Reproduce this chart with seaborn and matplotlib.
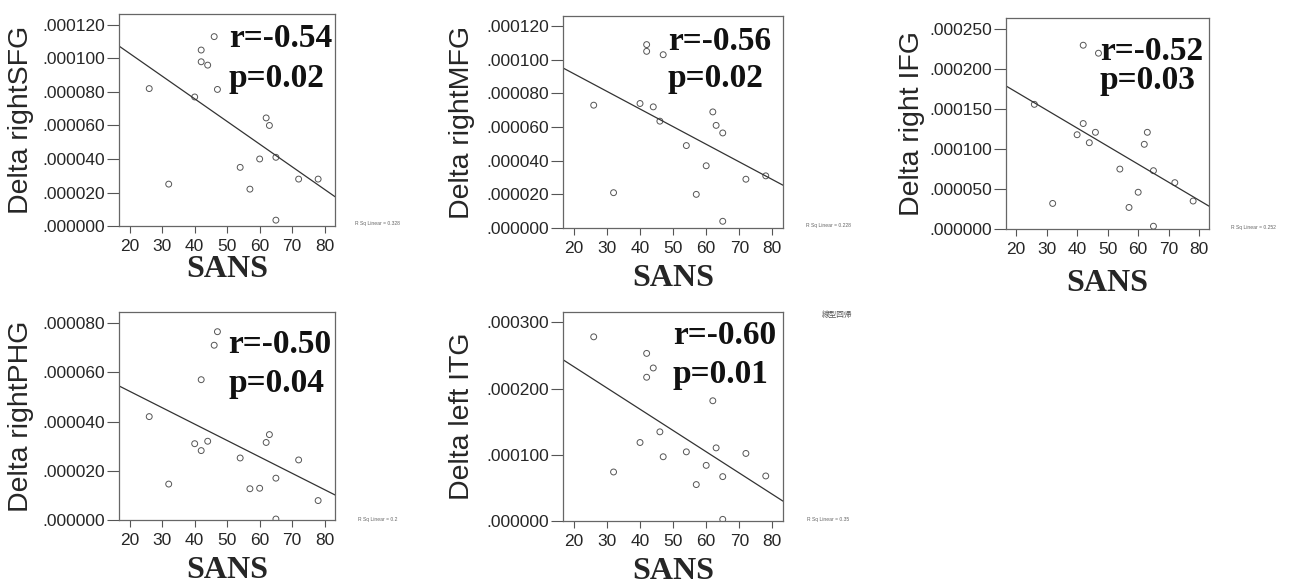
"""Cinco diagramas de dispersión SANS vs. delta de región, con recta de regresión."""

import matplotlib
matplotlib.use("Agg")
import matplotlib.pyplot as plt
import pandas as pd
import seaborn as sns
from matplotlib.ticker import FuncFormatter, MultipleLocator

# Puntuación SANS (igual en todos los paneles).
SANS = [26, 32, 40, 42, 42, 44, 46, 47, 54, 57, 60, 62, 63, 65, 65, 72, 78]

# Deltas por región (en unidades de 1e-6).
SFG = [82, 25, 77, 98, 105, 96, 113, 81.5, 35, 22, 40, 64.5, 60, 41, 3.5, 28, 28]
MFG = [73, 21, 74, 105, 109, 72, 63.5, 103, 49, 20, 37, 69, 61, 56.5, 4, 29, 31]
IFG = [156, 32, 118, 132, 230, 108, 121, 220, 75, 27, 46, 106, 121, 73, 3.5, 58, 35]
PHG = [42, 14.6, 31, 28.2, 57, 32, 71, 76.5, 25.2, 12.7, 12.9, 31.5, 34.7, 17, 0.4, 24.4, 7.9]
ITG = [278, 74, 118.5, 217, 253, 231, 134.6, 97, 104.4, 55, 84, 181.5, 110.4, 67, 2.5, 102, 68]

LABELS = ["Delta rightSFG", "Delta rightMFG", "Delta right IFG",
          "Delta rightPHG", "Delta left ITG"]
R_TXT = ["r=-0.54", "r=-0.56", "r=-0.52", "r=-0.50", "r=-0.60"]
P_TXT = ["p=0.02", "p=0.02", "p=0.03", "p=0.04", "p=0.01"]
RSQ_TXT = ["R Sq Linear = 0.328", "R Sq Linear = 0.228", "R Sq Linear = 0.252",
           "R Sq Linear = 0.2", "R Sq Linear = 0.35"]
YMAX = [126.5, 126, 264, 84.5, 315.5]
YSTEP = [20, 20, 50, 20, 100]

# Maquetación (fracciones de figura / ejes).
BOXES = [(0.0919, 0.6143, 0.1668, 0.3618), (0.4347, 0.6109, 0.1699, 0.3618),
         (0.7768, 0.6092, 0.1568, 0.3600), (0.0919, 0.1126, 0.1668, 0.3550),
         (0.4347, 0.1109, 0.1699, 0.3567)]
TXT_POS = [(0.509, 0.844, 0.656), (0.477, 0.840, 0.665), (0.463, 0.800, 0.664),
           (0.505, 0.803, 0.615), (0.500, 0.847, 0.660)]
YLAB_X = [-0.394, -0.40, -0.40, -0.394, -0.40]
XLAB_Y = [-0.137, -0.17, -0.19, -0.172, -0.172]
RSQ_POS = [(355, 223), (806, 225), (1231, 228), (358, 519), (807, 519)]

sns.set_theme(style="white")
plt.rcParams["font.family"] = ["Liberation Sans", "DejaVu Sans"]

fig = plt.figure(figsize=(12.95, 5.86), dpi=100)
fmt = FuncFormatter(lambda v, _: f"{v * 1e-6:.6f}".lstrip("0"))

for i, vals in enumerate([SFG, MFG, IFG, PHG, ITG]):
    df = pd.DataFrame({"SANS": SANS, "delta": vals})
    ax = fig.add_axes(BOXES[i])
    ax.set_xlim(16.7, 83.2)
    ax.set_ylim(0, YMAX[i])
    sns.regplot(data=df, x="SANS", y="delta", ax=ax, scatter=False, ci=None,
                truncate=False, line_kws={"color": "#333333", "lw": 0.9})
    sns.scatterplot(data=df, x="SANS", y="delta", ax=ax, s=18, marker="o",
                    facecolor="none", edgecolor="#555555", linewidth=0.7)
    ax.set_xlim(16.7, 83.2)
    ax.set_ylim(0, YMAX[i])
    ax.xaxis.set_major_locator(MultipleLocator(10))
    ax.yaxis.set_major_locator(MultipleLocator(YSTEP[i]))
    ax.yaxis.set_major_formatter(fmt)
    ax.tick_params(axis="y", left=True, length=9, width=0.8, pad=1,
                   labelsize=12.5, color="#555555")
    ax.tick_params(axis="x", bottom=True, length=5, width=0.8, pad=4,
                   labelsize=12.5, color="#555555")
    for sp in ax.spines.values():
        sp.set_color("#666666")
        sp.set_linewidth(0.9)
    ax.set_ylabel(LABELS[i], fontsize=20.5)
    ax.yaxis.set_label_coords(YLAB_X[i], 0.5)
    ax.set_xlabel("SANS", fontsize=23, family="Liberation Serif", weight="bold")
    ax.xaxis.set_label_coords(0.5, XLAB_Y[i])
    tx, ry, py = TXT_POS[i]
    for txt, yy in ((R_TXT[i], ry), (P_TXT[i], py)):
        ax.text(tx, yy, txt, transform=ax.transAxes, fontsize=24,
                family="Liberation Serif", weight="bold", color="#111111")
    fx, fy = RSQ_POS[i]
    fig.text(fx / 1295, 1 - fy / 586, RSQ_TXT[i], fontsize=3.6, color="#666666",
             va="center")

fig.text(822 / 1295, 1 - 315 / 586, "線型回帰", fontsize=5.5, color="#555555",
         va="center", family=["Noto Sans CJK JP", "DejaVu Sans"])

fig.savefig("out.png", dpi=100, facecolor="white")
